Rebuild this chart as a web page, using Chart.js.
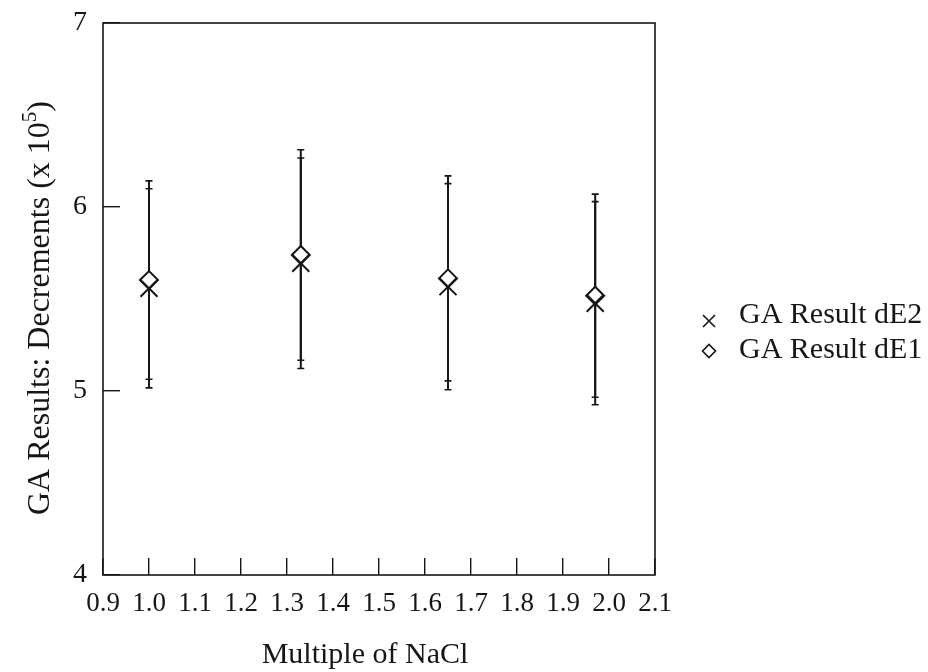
<!DOCTYPE html>
<html>
<head>
<meta charset="utf-8">
<script src="https://cdn.jsdelivr.net/npm/chart.js@4/dist/chart.umd.min.js"></script>
<style>
  html, body { margin: 0; padding: 0; background: #ffffff; }
  #wrap { width: 928px; height: 672px; }
</style>
</head>
<body>
<div id="wrap"><canvas id="c" width="928" height="672"></canvas></div>
<script>
// NaCl multiples on the x axis
const nacl = [1.0, 1.33, 1.65, 1.97];

// GA decrement results (x 10^5) with symmetric error half-widths
const dE2 = [5.558, 5.694, 5.567, 5.477];
const dE2Err = [0.541, 0.572, 0.560, 0.552];
const dE1 = [5.603, 5.739, 5.612, 5.518];
const dE1Err = [0.539, 0.572, 0.557, 0.552];

// Axis tick values
const xTicks = [0.9, 1.0, 1.1, 1.2, 1.3, 1.4, 1.5, 1.6, 1.7, 1.8, 1.9, 2.0, 2.1];
const yTicks = [4, 5, 6, 7];

const INK = '#161616';
const SERIF = '"Liberation Serif", "DejaVu Serif", serif';

const toPoints = (xs, ys) => xs.map((x, i) => ({ x: x, y: ys[i] }));

// Vertical error bars with small caps, drawn under the markers
const errorBars = {
  id: 'errorBars',
  beforeDatasetsDraw(chart) {
    const ctx = chart.ctx;
    const xs = chart.scales.x, ys = chart.scales.y;
    ctx.save();
    ctx.strokeStyle = INK;
    chart.data.datasets.forEach((ds) => {
      ds.data.forEach((p, i) => {
        const e = ds.errors[i];
        const px = xs.getPixelForValue(p.x);
        const top = ys.getPixelForValue(p.y + e);
        const bot = ys.getPixelForValue(p.y - e);
        ctx.lineWidth = 2;
        ctx.beginPath();
        ctx.moveTo(px, top);
        ctx.lineTo(px, bot);
        ctx.stroke();
        ctx.lineWidth = 1.6;
        ctx.beginPath();
        ctx.moveTo(px - 3.5, top); ctx.lineTo(px + 3.5, top);
        ctx.moveTo(px - 3.5, bot); ctx.lineTo(px + 3.5, bot);
        ctx.stroke();
      });
    });
    ctx.restore();
  }
};

// Frame, axis titles and legend
const decorations = {
  id: 'decorations',
  afterDraw(chart) {
    const ctx = chart.ctx;
    const a = chart.chartArea;
    ctx.save();
    // frame around the plot
    ctx.strokeStyle = INK;
    ctx.lineWidth = 1.6;
    ctx.strokeRect(a.left, a.top, a.right - a.left, a.bottom - a.top);

    ctx.fillStyle = INK;
    ctx.textBaseline = 'middle';

    // x title
    ctx.font = '30px ' + SERIF;
    ctx.textAlign = 'center';
    ctx.fillText('Multiple of NaCl', 365, 655);

    // y title with superscript exponent
    const main = 'GA Results: Decrements (x 10';
    const sup = '5';
    const tail = ')';
    const big = '32px ' + SERIF, small = '21px ' + SERIF;
    ctx.font = big;
    const wMain = ctx.measureText(main).width;
    const wTail = ctx.measureText(tail).width;
    ctx.font = small;
    const wSup = ctx.measureText(sup).width;
    const total = wMain + wSup + wTail;
    ctx.translate(41, 308);
    ctx.rotate(-Math.PI / 2);
    ctx.textAlign = 'left';
    const x0 = -total / 2;
    ctx.font = big;
    ctx.fillText(main, x0, 0);
    ctx.font = small;
    ctx.fillText(sup, x0 + wMain, -11);
    ctx.font = big;
    ctx.fillText(tail, x0 + wMain + wSup, 0);
    ctx.setTransform(1, 0, 0, 1, 0, 0);

    // legend
    const rows = [
      { ds: chart.data.datasets[0], my: 321, ty: 315 },
      { ds: chart.data.datasets[1], my: 351, ty: 350 }
    ];
    const mx = 709;
    ctx.lineWidth = 1.6;
    ctx.strokeStyle = INK;
    rows.forEach((r) => {
      ctx.beginPath();
      if (r.ds.pointStyle === 'crossRot') {
        const h = 6;
        ctx.moveTo(mx - h, r.my - h); ctx.lineTo(mx + h, r.my + h);
        ctx.moveTo(mx - h, r.my + h); ctx.lineTo(mx + h, r.my - h);
      } else {
        const h = 6.5;
        ctx.moveTo(mx - h, r.my); ctx.lineTo(mx, r.my - h);
        ctx.lineTo(mx + h, r.my); ctx.lineTo(mx, r.my + h);
        ctx.closePath();
      }
      ctx.stroke();
      ctx.font = '30px ' + SERIF;
      ctx.textAlign = 'left';
      ctx.fillText(r.ds.label, 739, r.ty);
    });
    ctx.restore();
  }
};

// Keep scale boxes at fixed sizes so the plot area stays put
const fixBox = (s, prop, size) => {
  s[prop] = size;
  s.paddingTop = 0; s.paddingBottom = 0;
  s.paddingLeft = 0; s.paddingRight = 0;
};

new Chart(document.getElementById('c'), {
  type: 'scatter',
  data: {
    datasets: [
      {
        label: 'GA Result dE2',
        data: toPoints(nacl, dE2),
        errors: dE2Err,
        pointStyle: 'crossRot',
        pointRadius: 12,
        pointBorderWidth: 2,
        pointBorderColor: INK,
        pointBackgroundColor: INK
      },
      {
        label: 'GA Result dE1',
        data: toPoints(nacl, dE1),
        errors: dE1Err,
        pointStyle: 'rectRot',
        pointRadius: 9,
        pointBorderWidth: 2,
        pointBorderColor: INK,
        pointBackgroundColor: '#ffffff'
      }
    ]
  },
  options: {
    responsive: false,
    devicePixelRatio: 1,
    animation: false,
    events: [],
    layout: { padding: { top: 23, right: 273, bottom: 0, left: 0 } },
    plugins: {
      legend: { display: false },
      tooltip: { enabled: false }
    },
    scales: {
      x: {
        type: 'linear',
        min: 0.9,
        max: 2.1,
        afterBuildTicks: (s) => { s.ticks = xTicks.map((v) => ({ value: v })); },
        afterFit: (s) => fixBox(s, 'height', 97),
        border: { display: false },
        grid: {
          drawOnChartArea: false,
          drawTicks: true,
          tickLength: -17,
          color: INK,
          lineWidth: 1.4
        },
        ticks: {
          padding: 30,
          color: INK,
          font: { family: SERIF, size: 27 },
          maxRotation: 0,
          autoSkip: false,
          callback: (v) => Number(v).toFixed(1)
        }
      },
      y: {
        type: 'linear',
        min: 4,
        max: 7,
        afterBuildTicks: (s) => { s.ticks = yTicks.map((v) => ({ value: v })); },
        afterFit: (s) => fixBox(s, 'width', 103),
        border: { display: false },
        grid: {
          drawOnChartArea: false,
          drawTicks: true,
          tickLength: -17,
          color: INK,
          lineWidth: 1.4
        },
        ticks: {
          padding: 33,
          color: INK,
          font: { family: SERIF, size: 28 },
          callback: (v) => String(v)
        }
      }
    }
  },
  plugins: [errorBars, decorations]
});
</script>
</body>
</html>
